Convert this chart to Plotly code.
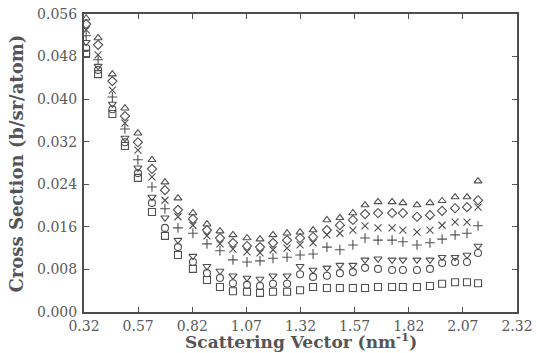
import plotly.graph_objects as go

q = [0.33, 0.385, 0.451, 0.509, 0.569, 0.634, 0.694, 0.754, 0.823, 0.888, 0.948,
     1.008, 1.073, 1.133, 1.193, 1.258, 1.318, 1.378, 1.442, 1.502, 1.562,
     1.618, 1.678, 1.743, 1.793, 1.858, 1.918, 1.974, 2.034, 2.089, 2.140]

s_tri = [0.0552, 0.0515, 0.0447, 0.0383, 0.0336, 0.0286, 0.0244, 0.0214, 0.0186, 0.0165, 0.0152,
         0.0145, 0.0139, 0.0137, 0.0145, 0.0148, 0.0150, 0.0154, 0.0173, 0.0177, 0.0186,
         0.0201, 0.0207, 0.0207, 0.0205, 0.0201, 0.0205, 0.0209, 0.0216, 0.0216, 0.0246]
s_dia = [0.0541, 0.0502, 0.0434, 0.0368, 0.0319, 0.0269, 0.0229, 0.0192, 0.0175, 0.0154, 0.0139,
         0.0130, 0.0124, 0.0122, 0.0130, 0.0135, 0.0139, 0.0141, 0.0154, 0.0163, 0.0173,
         0.0184, 0.0186, 0.0186, 0.0186, 0.0179, 0.0182, 0.0190, 0.0195, 0.0197, 0.0210]
s_x = [0.0530, 0.0483, 0.0417, 0.0355, 0.0304, 0.0254, 0.0210, 0.0179, 0.0163, 0.0143, 0.0128,
       0.0118, 0.0113, 0.0111, 0.0117, 0.0120, 0.0126, 0.0130, 0.0145, 0.0148, 0.0154,
       0.0162, 0.0158, 0.0158, 0.0154, 0.0150, 0.0154, 0.0163, 0.0169, 0.0169, 0.0197]
s_plus = [0.0519, 0.0474, 0.0404, 0.0344, 0.0286, 0.0235, 0.0194, 0.0158, 0.0148, 0.0128, 0.0115,
          0.0098, 0.0094, 0.0096, 0.0101, 0.0103, 0.0107, 0.0109, 0.0122, 0.0117, 0.0126,
          0.0139, 0.0135, 0.0135, 0.0132, 0.0126, 0.0130, 0.0137, 0.0145, 0.0148, 0.0162]
s_tdown = [0.0507, 0.0462, 0.0391, 0.0327, 0.0271, 0.0216, 0.0177, 0.0135, 0.0105, 0.0086, 0.0077,
           0.0068, 0.0064, 0.0062, 0.0068, 0.0068, 0.0086, 0.0079, 0.0083, 0.0088, 0.0088,
           0.0098, 0.0100, 0.0098, 0.0098, 0.0098, 0.0098, 0.0103, 0.0103, 0.0107, 0.0124]
s_circ = [0.0496, 0.0455, 0.0381, 0.0319, 0.0261, 0.0205, 0.0158, 0.0122, 0.0094, 0.0073, 0.0064,
          0.0054, 0.0051, 0.0049, 0.0053, 0.0053, 0.0071, 0.0066, 0.0068, 0.0073, 0.0075,
          0.0083, 0.0081, 0.0079, 0.0079, 0.0079, 0.0081, 0.0092, 0.0094, 0.0094, 0.0111]
s_sq = [0.0485, 0.0447, 0.0372, 0.0312, 0.0252, 0.0188, 0.0143, 0.0107, 0.0081, 0.0060, 0.0047,
        0.0039, 0.0038, 0.0036, 0.0038, 0.0038, 0.0041, 0.0047, 0.0045, 0.0045, 0.0045,
        0.0045, 0.0047, 0.0047, 0.0047, 0.0047, 0.0049, 0.0053, 0.0056, 0.0056, 0.0054]

x_ticks = [0.32, 0.57, 0.82, 1.07, 1.32, 1.57, 1.82, 2.07, 2.32]
y_ticks = [0.000, 0.008, 0.016, 0.024, 0.032, 0.040, 0.048, 0.056]

series = [
    (s_tri, "triangle-up-open"),
    (s_dia, "diamond-open"),
    (s_x, "x-thin-open"),
    (s_plus, "cross-thin-open"),
    (s_tdown, "triangle-down-open"),
    (s_circ, "circle-open"),
    (s_sq, "square-open"),
]

ink = "#505050"
fig = go.Figure()
for vals, sym in series:
    fig.add_trace(go.Scatter(
        x=q, y=vals, mode="markers",
        marker=dict(symbol=sym, size=7, color=ink, line=dict(color=ink, width=1.1)),
        showlegend=False, hoverinfo="skip",
    ))

font_tick = dict(family="DejaVu Serif", size=14, color="#5a5a5a")
font_title = dict(family="DejaVu Serif", size=17, color="#555555", weight="bold")

fig.update_layout(
    width=536, height=353,
    margin=dict(l=84, r=19, t=14, b=41, autoexpand=False),
    paper_bgcolor="white", plot_bgcolor="white",
    xaxis=dict(
        range=[0.32, 2.32], tickvals=x_ticks, ticktext=[f"{v:.2f}" for v in x_ticks],
        showgrid=False, zeroline=False, showline=True, linecolor="#4d4d4d", linewidth=2,
        mirror="ticks", ticks="inside", ticklen=5, tickcolor="#555555",
        tickfont=font_tick, ticklabelstandoff=0, automargin=False,
    ),
    yaxis=dict(
        range=[0, 0.056], tickvals=y_ticks, ticktext=[f"{v:.3f}" for v in y_ticks],
        showgrid=False, zeroline=False, showline=True, linecolor="#4d4d4d", linewidth=2,
        mirror="ticks", ticks="inside", ticklen=5, tickcolor="#555555",
        tickfont=font_tick, ticklabelstandoff=2, automargin=False,
    ),
    annotations=[
        dict(text="Scattering Vector (nm<sup>-1</sup>)", xref="paper", yref="paper",
             x=0.5, y=-0.097, xanchor="center", yanchor="middle", showarrow=False,
             font=font_title),
        dict(text="Cross Section (b/sr/atom)", xref="paper", yref="paper",
             x=-0.156, y=0.5, xanchor="center", yanchor="middle", showarrow=False,
             textangle=-90, font=dict(family="DejaVu Serif", size=18, color="#555555",
                                      weight="bold")),
    ],
)

# remove the page's default body margin so the 536x353 figure fills the window exactly
fig.write_html("out.html", config={"displayModeBar": False},
               post_script="document.body.style.margin='0px';")
